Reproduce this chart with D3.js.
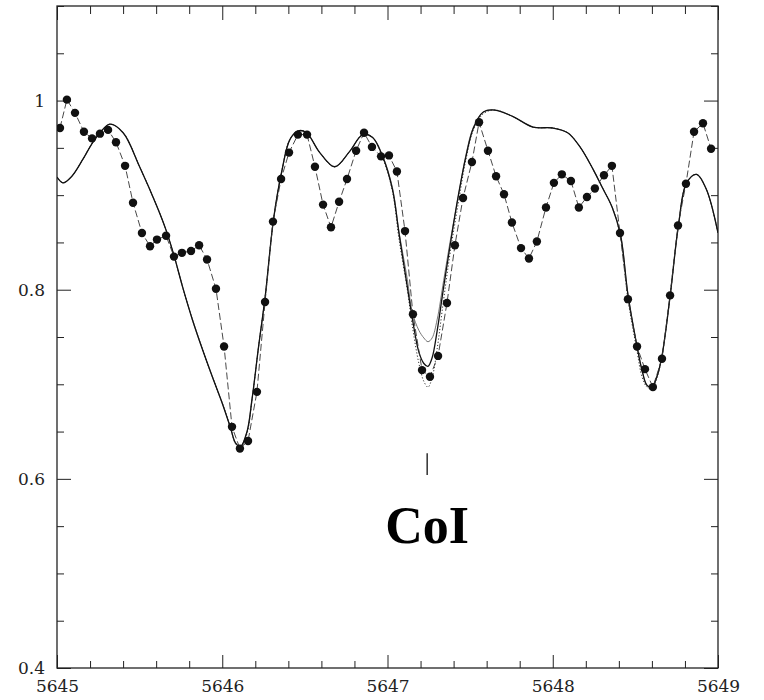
<!DOCTYPE html>
<html>
<head>
<meta charset="utf-8">
<script src="https://cdn.jsdelivr.net/npm/d3@7/dist/d3.min.js"></script>
<style>
  html, body { margin: 0; padding: 0; background: #fff; }
  svg { display: block; }
  .tick text { font-family: "DejaVu Serif", serif; font-size: 17px; fill: #222; }
</style>
</head>
<body>
<svg id="chart" width="764" height="700"></svg>
<script>
// ---------- data ----------
const xTickLabels = [5645, 5646, 5647, 5648, 5649];
const yTickLabels = [0.4, 0.6, 0.8, 1];

// observed spectrum (dots joined by a dashed line)
const obsX = [5645.018, 5645.060, 5645.109, 5645.163, 5645.212, 5645.260, 5645.309, 5645.357, 5645.412, 5645.460,
              5645.514, 5645.563, 5645.605, 5645.660, 5645.708, 5645.756, 5645.811, 5645.860, 5645.908, 5645.962,
              5646.011, 5646.059, 5646.107, 5646.156, 5646.210, 5646.259, 5646.307, 5646.356, 5646.404, 5646.458,
              5646.513, 5646.561, 5646.610, 5646.658, 5646.707, 5646.755, 5646.810, 5646.858, 5646.906, 5646.961,
              5647.009, 5647.057, 5647.106, 5647.154, 5647.209, 5647.257, 5647.306, 5647.360, 5647.408, 5647.457,
              5647.511, 5647.554, 5647.608, 5647.657, 5647.705, 5647.753, 5647.808, 5647.856, 5647.904, 5647.959,
              5648.007, 5648.055, 5648.110, 5648.158, 5648.207, 5648.255, 5648.310, 5648.358, 5648.407, 5648.455,
              5648.510, 5648.558, 5648.606, 5648.661, 5648.710, 5648.758, 5648.806, 5648.855, 5648.909, 5648.958];
const obsY = [0.971, 1.001, 0.987, 0.967, 0.960, 0.965, 0.969, 0.956, 0.931, 0.892,
              0.860, 0.846, 0.853, 0.857, 0.835, 0.839, 0.841, 0.847, 0.832, 0.801,
              0.740, 0.655, 0.632, 0.640, 0.692, 0.787, 0.872, 0.917, 0.945, 0.964,
              0.964, 0.930, 0.890, 0.866, 0.893, 0.917, 0.947, 0.966, 0.951, 0.941,
              0.942, 0.925, 0.862, 0.774, 0.715, 0.708, 0.730, 0.786, 0.847, 0.897,
              0.935, 0.977, 0.947, 0.920, 0.901, 0.871, 0.844, 0.833, 0.851, 0.887,
              0.913, 0.922, 0.915, 0.887, 0.898, 0.907, 0.921, 0.931, 0.860, 0.790,
              0.740, 0.716, 0.697, 0.727, 0.794, 0.868, 0.912, 0.967, 0.976, 0.949];

// synthetic spectra (shared wavelength grid)
const modelX = [5645.000, 5645.036, 5645.090, 5645.157, 5645.210, 5645.260, 5645.320, 5645.400, 5645.500, 5645.605,
                5645.660, 5645.710, 5645.760, 5645.820, 5645.880, 5645.940, 5646.000, 5646.050, 5646.080, 5646.110,
                5646.150, 5646.180, 5646.220, 5646.260, 5646.310, 5646.360, 5646.410, 5646.460, 5646.510, 5646.590,
                5646.680, 5646.770, 5646.850, 5646.910, 5646.970,
                5647.030, 5647.070, 5647.120, 5647.150, 5647.190, 5647.220, 5647.245, 5647.270, 5647.300, 5647.340,
                5647.380, 5647.430, 5647.475, 5647.520, 5647.580,
                5647.650, 5647.760, 5647.880, 5648.000, 5648.090, 5648.165, 5648.245, 5648.300, 5648.360, 5648.410,
                5648.455, 5648.510, 5648.540, 5648.570, 5648.600, 5648.630, 5648.660, 5648.710, 5648.760, 5648.810,
                5648.870, 5648.930, 5649.000];
const solidY = [0.919, 0.913, 0.920, 0.938, 0.954, 0.966, 0.975, 0.966, 0.930, 0.888,
                0.863, 0.835, 0.803, 0.768, 0.737, 0.708, 0.680, 0.654, 0.638, 0.634,
                0.650, 0.684, 0.740, 0.793, 0.874, 0.925, 0.959, 0.968, 0.966, 0.945,
                0.930, 0.946, 0.964, 0.961, 0.941,
                0.906, 0.859, 0.803, 0.770, 0.734, 0.722, 0.719, 0.728, 0.756, 0.803,
                0.848, 0.901, 0.941, 0.971, 0.988,
                0.990, 0.983, 0.972, 0.971, 0.966, 0.951, 0.927, 0.908, 0.887, 0.858,
                0.795, 0.740, 0.715, 0.699, 0.697, 0.708, 0.729, 0.793, 0.867, 0.913,
                0.922, 0.906, 0.860];
const dottedY = [0.919, 0.913, 0.920, 0.938, 0.954, 0.966, 0.975, 0.966, 0.930, 0.888,
                 0.863, 0.835, 0.803, 0.768, 0.737, 0.708, 0.680, 0.654, 0.637, 0.632,
                 0.648, 0.683, 0.740, 0.793, 0.874, 0.925, 0.959, 0.968, 0.966, 0.945,
                 0.930, 0.946, 0.964, 0.961, 0.940,
                 0.904, 0.853, 0.800, 0.762, 0.722, 0.703, 0.697, 0.707, 0.737, 0.790,
                 0.840, 0.893, 0.938, 0.969, 0.986,
                 0.990, 0.983, 0.972, 0.971, 0.966, 0.951, 0.927, 0.908, 0.887, 0.856,
                 0.790, 0.735, 0.708, 0.697, 0.695, 0.706, 0.729, 0.793, 0.867, 0.913,
                 0.922, 0.906, 0.860];
const grayY = [0.919, 0.913, 0.920, 0.938, 0.954, 0.966, 0.975, 0.966, 0.930, 0.888,
               0.863, 0.835, 0.803, 0.768, 0.737, 0.708, 0.680, 0.654, 0.638, 0.634,
               0.650, 0.684, 0.740, 0.793, 0.874, 0.925, 0.959, 0.968, 0.966, 0.945,
               0.930, 0.946, 0.964, 0.961, 0.942,
               0.908, 0.861, 0.811, 0.776, 0.757, 0.749, 0.745, 0.749, 0.768, 0.810,
               0.852, 0.900, 0.943, 0.972, 0.988,
               0.990, 0.983, 0.972, 0.971, 0.966, 0.951, 0.927, 0.908, 0.887, 0.858,
               0.795, 0.740, 0.715, 0.699, 0.697, 0.708, 0.729, 0.793, 0.867, 0.913,
               0.922, 0.906, 0.860];

const lineLabel = "CoI";
const lineWavelength = 5647.24;

// ---------- drawing ----------
const svg = d3.select("#chart");
const X0 = 57, X1 = 718, Y0 = 6, Y1 = 668;
const x = d3.scaleLinear().domain([5645, 5649]).range([X0, X1]);
const y = d3.scaleLinear().domain([0.4, 1.1]).range([Y1, Y0]);

const majorX = xTickLabels;
const minorX = d3.range(5645, 5649.001, 0.2).map(v => +v.toFixed(1)).filter(v => !majorX.includes(v));
const majorY = yTickLabels;
const minorY = d3.range(0.4, 1.1001, 0.05).map(v => +v.toFixed(2)).filter(v => !majorY.includes(v));

function styleAxis(g) {
  g.select(".domain").remove();
  g.selectAll(".tick line").attr("stroke", "#222").attr("stroke-width", 1);
}

// bottom
svg.append("g").attr("transform", `translate(0,${Y1})`)
  .call(d3.axisBottom(x).tickValues(majorX).tickSize(-13).tickPadding(12).tickFormat(d3.format("d")))
  .call(styleAxis);
svg.append("g").attr("transform", `translate(0,${Y1})`)
  .call(d3.axisBottom(x).tickValues(minorX).tickSize(-7).tickFormat(""))
  .call(styleAxis);
// top
svg.append("g").attr("transform", `translate(0,${Y0})`)
  .call(d3.axisTop(x).tickValues(majorX).tickSize(-14).tickFormat(""))
  .call(styleAxis);
svg.append("g").attr("transform", `translate(0,${Y0})`)
  .call(d3.axisTop(x).tickValues(minorX).tickSize(-8).tickFormat(""))
  .call(styleAxis);
// left
svg.append("g").attr("transform", `translate(${X0},0)`)
  .call(d3.axisLeft(y).tickValues(majorY).tickSize(-14).tickPadding(12).tickFormat(d => d === 1 ? "1" : d3.format(".1f")(d)))
  .call(styleAxis);
svg.append("g").attr("transform", `translate(${X0},0)`)
  .call(d3.axisLeft(y).tickValues(minorY).tickSize(-7).tickFormat(""))
  .call(styleAxis);
// right
svg.append("g").attr("transform", `translate(${X1},0)`)
  .call(d3.axisRight(y).tickValues(majorY).tickSize(-14).tickFormat(""))
  .call(styleAxis);
svg.append("g").attr("transform", `translate(${X1},0)`)
  .call(d3.axisRight(y).tickValues(minorY).tickSize(-7).tickFormat(""))
  .call(styleAxis);

// frame
svg.append("rect").attr("x", X0).attr("y", Y0).attr("width", X1 - X0).attr("height", Y1 - Y0)
  .attr("fill", "none").attr("stroke", "#222").attr("stroke-width", 1.3);

const clip = svg.append("clipPath").attr("id", "clip")
  .append("rect").attr("x", X0).attr("y", Y0).attr("width", X1 - X0).attr("height", Y1 - Y0);
const plot = svg.append("g").attr("clip-path", "url(#clip)");

const modelLine = d3.line().x(d => x(d[0])).y(d => y(d[1])).curve(d3.curveCatmullRom.alpha(0.5));
const zip = (a, b) => a.map((v, i) => [v, b[i]]);

plot.append("path").datum(zip(modelX, dottedY)).attr("d", modelLine)
  .attr("fill", "none").attr("stroke", "#333").attr("stroke-width", 1).attr("stroke-dasharray", "1.2,2");
plot.append("path").datum(zip(modelX, grayY)).attr("d", modelLine)
  .attr("fill", "none").attr("stroke", "#555").attr("stroke-width", 0.8);
plot.append("path").datum(zip(modelX, solidY)).attr("d", modelLine)
  .attr("fill", "none").attr("stroke", "#111").attr("stroke-width", 1.3);

// observed
const obs = zip(obsX, obsY);
plot.append("path").datum(obs)
  .attr("d", d3.line().x(d => x(d[0])).y(d => y(d[1])))
  .attr("fill", "none").attr("stroke", "#333").attr("stroke-width", 0.9).attr("stroke-dasharray", "7,3");
plot.selectAll("circle.obs").data(obs).join("circle").attr("class", "obs")
  .attr("cx", d => x(d[0])).attr("cy", d => y(d[1])).attr("r", 4.2).attr("fill", "#111");

// line identification
svg.append("line").attr("x1", x(lineWavelength)).attr("x2", x(lineWavelength))
  .attr("y1", y(0.627)).attr("y2", y(0.604)).attr("stroke", "#111").attr("stroke-width", 1.3);
svg.append("text").attr("x", x(lineWavelength)).attr("y", 543).attr("text-anchor", "middle")
  .attr("font-family", "'Liberation Serif', 'Times New Roman', serif").attr("font-weight", "bold")
  .attr("font-size", 52).attr("fill", "#000").text(lineLabel);
</script>
</body>
</html>
